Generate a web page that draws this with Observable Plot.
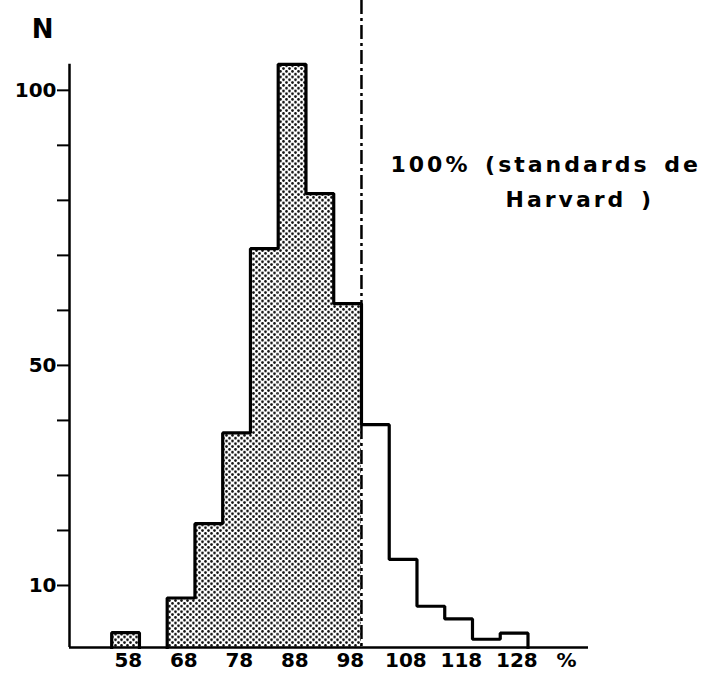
<!DOCTYPE html>
<html>
<head>
<meta charset="utf-8">
<script src="https://cdn.jsdelivr.net/npm/d3@7"></script>
<script src="https://cdn.jsdelivr.net/npm/@observablehq/plot@0.6"></script>
<style>
  html, body { margin: 0; padding: 0; background: #fff; }
  #chart svg { display: block; }
</style>
</head>
<body>
<div id="chart"></div>
<script>
// ---- data ----
const binStart = [55, 65, 70, 75, 80, 85, 90, 95, 100, 105, 110, 115, 120, 125];
const binWidth = 5;
const counts   = [2.7, 9, 22.5, 39, 72.5, 106, 82.5, 62.5, 40.5, 16, 7.5, 5.2, 1.5, 2.6];
const xTicks   = [58, 68, 78, 88, 98, 108, 118, 128];
const yTicks   = [10, 20, 30, 40, 50, 60, 70, 80, 90, 100];
const yLabeled = [10, 50, 100];
const standardLine = [100];
const annotationLines = ["100% (standards de", "Harvard )"];
const yTitle = "N";
const xUnit = "%";

// ---- derived tables ----
const bins = binStart.map((s, i) => ({start: s, end: s + binWidth, n: counts[i]}));
// outline runs (contiguous bins)
const outline = [];
let run = 0;
bins.forEach((b, i) => {
  if (i === 0 || bins[i - 1].end !== b.start) {
    if (i > 0) outline.push({x: bins[i - 1].end, y: 0, run});
    run++;
    outline.push({x: b.start, y: 0, run});
  }
  outline.push({x: b.start, y: b.n, run});
  if (i === bins.length - 1) outline.push({x: b.end, y: 0, run});
});

const xDomain = [47.4, 140.9];
const font = "'DejaVu Sans', 'Liberation Sans', sans-serif";

const svg = Plot.plot({
  width: 713,
  height: 673,
  marginLeft: 69,
  marginRight: 125,
  marginTop: 0,
  marginBottom: 26,
  style: {fontFamily: font, fontWeight: "bold", fontSize: "20px", color: "#000", background: "#fff"},
  x: {domain: xDomain},
  y: {domain: [0, 117.6]},
  marks: [
    Plot.rectY(bins.filter(d => d.start < standardLine[0]), {x1: "start", x2: "end", y: "n", fill: "url(#dots)"}),
    Plot.rectY(bins.filter(d => d.start >= standardLine[0]), {x1: "start", x2: "end", y: "n", fill: "white"}),
    Plot.line(outline, {x: "x", y: "y", z: "run", curve: "step-after", stroke: "#000", strokeWidth: 3.2, strokeLinejoin: "miter", strokeLinecap: "square"}),
    Plot.ruleX(standardLine, {stroke: "#000", strokeWidth: 2.5, strokeDasharray: "14,4,3,4"}),
    Plot.ruleY([0], {stroke: "#000", strokeWidth: 2.5}),
    Plot.ruleX([xDomain[0]], {y1: 0, y2: d3.max(counts), stroke: "#000", strokeWidth: 2.5}),
    Plot.axisY({
      ticks: yTicks,
      tickSize: 12,
      tickPadding: 1,
      strokeWidth: 2,
      tickFormat: d => yLabeled.includes(d) ? String(d) : "",
      dy: -7,
      label: null,
      fontSize: 20
    }),
    Plot.axisX({
      ticks: xTicks,
      tickSize: 0,
      tickPadding: 5,
      tickFormat: d => String(d),
      label: null,
      fontSize: 20
    }),
    Plot.text([yTitle], {text: d => d, frameAnchor: "top-left", textAnchor: "middle", lineAnchor: "top", dx: -27, dy: 19, fontSize: 26, fontWeight: "bold"}),
    Plot.text([xUnit], {text: d => d, frameAnchor: "bottom-right", textAnchor: "middle", lineAnchor: "top", dx: -22, dy: 5, fontSize: 20, fontWeight: "bold"}),
    Plot.text([annotationLines[0]], {x: () => standardLine[0], text: d => d, frameAnchor: "top", textAnchor: "start", lineAnchor: "top", dx: 29, dy: 156, fontSize: 22, fontWeight: "bold"}),
    Plot.text([annotationLines[1]], {x: () => standardLine[0], text: d => d, frameAnchor: "top", textAnchor: "start", lineAnchor: "top", dx: 144, dy: 191, fontSize: 22, fontWeight: "bold"})
  ]
});

// dotted halftone pattern for the shaded bars
const ns = "http://www.w3.org/2000/svg";
const defs = document.createElementNS(ns, "defs");
defs.innerHTML = `<pattern id="dots" width="6" height="5.6" patternUnits="userSpaceOnUse">
  <rect width="6" height="5.6" fill="#fff"/>
  <circle cx="1.5" cy="1.4" r="1.35" fill="#111"/>
  <circle cx="4.5" cy="4.2" r="1.35" fill="#111"/>
</pattern>`;
svg.insertBefore(defs, svg.firstChild);
// letter spacing for the annotation
svg.querySelectorAll("text").forEach(t => {
  if (t.textContent === annotationLines[0] || t.textContent === annotationLines[1]) {
    t.setAttribute("letter-spacing", "3");
    t.setAttribute("word-spacing", "4");
  }
});
document.getElementById("chart").appendChild(svg);
</script>
</body>
</html>
